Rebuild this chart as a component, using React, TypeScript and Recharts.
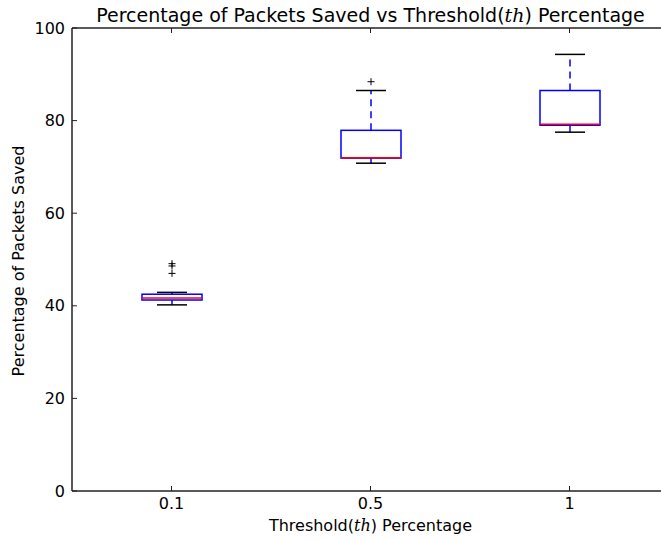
import React from 'react';
import { ComposedChart, Bar, XAxis, YAxis } from 'recharts';

// Box-plot statistics per threshold setting
const categories = ['0.1', '0.5', '1'];
const whiskerLow = [40.2, 70.8, 77.5];
const quartile1 = [41.25, 71.9, 79.0];
const medians = [41.7, 72.0, 79.2];
const quartile3 = [42.5, 77.9, 86.5];
const whiskerHigh = [42.9, 86.5, 94.3];
const outliers: number[][] = [[47.0, 48.6, 49.1], [88.4], []];
const yTicks = [0, 20, 40, 60, 80, 100];

const data = categories.map((category, i) => ({
  category,
  range: [whiskerLow[i], whiskerHigh[i]],
  low: whiskerLow[i],
  q1: quartile1[i],
  median: medians[i],
  q3: quartile3[i],
  high: whiskerHigh[i],
  outliers: outliers[i],
}));

const FONT = '"DejaVu Sans", sans-serif';
const MATH_FONT = '"DejaVu Serif", serif';
const AXIS_COLOR = '#222';

// Draws one box: box, median, dashed whiskers, caps and outlier crosses
const BoxShape = (props: any) => {
  const { x, y, width, height, payload } = props;
  const top = Math.min(y, y + height);
  const h = Math.abs(height);
  const { low, high } = payload;
  const py = (v: number) => top + ((high - v) / (high - low)) * h;
  const cx = x + width / 2;
  const capHalf = width / 4;
  const yq1 = py(payload.q1);
  const yq3 = py(payload.q3);
  const ym = py(payload.median);
  const yHi = py(high);
  const yLo = py(low);
  return (
    <g>
      <line x1={cx} x2={cx} y1={yq3} y2={yHi} stroke="#0000ff" strokeWidth={1.5} strokeDasharray="7 5" />
      <line x1={cx} x2={cx} y1={yq1} y2={yLo} stroke="#0000ff" strokeWidth={1.5} strokeDasharray="7 5" />
      <line x1={cx - capHalf} x2={cx + capHalf} y1={yHi} y2={yHi} stroke="#000" strokeWidth={1.5} />
      <line x1={cx - capHalf} x2={cx + capHalf} y1={yLo} y2={yLo} stroke="#000" strokeWidth={1.5} />
      <rect x={x} y={yq3} width={width} height={yq1 - yq3} fill="none" stroke="#0000ff" strokeWidth={1.5} />
      <line x1={x} x2={x + width} y1={ym} y2={ym} stroke="#ff0000" strokeWidth={1.5} />
      {payload.outliers.map((v: number, k: number) => {
        const oy = py(v);
        return (
          <g key={k}>
            <line x1={cx - 3.5} x2={cx + 3.5} y1={oy} y2={oy} stroke="#000" strokeWidth={1} />
            <line x1={cx} x2={cx} y1={oy - 3.5} y2={oy + 3.5} stroke="#000" strokeWidth={1} />
          </g>
        );
      })}
    </g>
  );
};

const TitleLabel = (props: any) => {
  const { viewBox } = props;
  const cx = viewBox.x + viewBox.width / 2;
  return (
    <text x={cx} y={22} textAnchor="middle" fontFamily={FONT} fontSize={19} fill="#000">
      <tspan>Percentage of Packets Saved vs Threshold(</tspan>
      <tspan fontFamily={MATH_FONT} fontStyle="italic">th</tspan>
      <tspan>) Percentage</tspan>
    </text>
  );
};

const XTitle = (props: any) => {
  const { viewBox } = props;
  const cx = viewBox.x + viewBox.width / 2;
  return (
    <text x={cx} y={531} textAnchor="middle" fontFamily={FONT} fontSize={16} fill="#000">
      <tspan>Threshold(</tspan>
      <tspan fontFamily={MATH_FONT} fontStyle="italic">th</tspan>
      <tspan>) Percentage</tspan>
    </text>
  );
};

const YTitle = () => (
  <text
    x={24}
    y={261}
    textAnchor="middle"
    transform="rotate(-90 24 261)"
    fontFamily={FONT}
    fontSize={16}
    fill="#000"
  >
    Percentage of Packets Saved
  </text>
);

export default function App() {
  return (
    <div
      style={{
        position: 'absolute',
        left: 0,
        top: 0,
        width: 661,
        height: 539,
        overflow: 'hidden',
        background: '#fff',
      }}
    >
      <ComposedChart
        width={680}
        height={539}
        data={data}
        margin={{ top: 0, right: 11, bottom: 0, left: 0 }}
      >
        <XAxis
          xAxisId="top"
          orientation="top"
          dataKey="category"
          height={28}
          tickSize={-5}
          tickFormatter={() => ''}
          stroke={AXIS_COLOR}
          axisLine={{ stroke: AXIS_COLOR, strokeWidth: 1.5 }}
          tickLine={{ stroke: AXIS_COLOR }}
          label={<TitleLabel />}
        />
        <XAxis
          dataKey="category"
          height={48}
          tickSize={-5}
          tickMargin={12}
          axisLine={{ stroke: AXIS_COLOR, strokeWidth: 1.5 }}
          tickLine={{ stroke: AXIS_COLOR }}
          tick={{ fill: '#000', fontSize: 16, fontFamily: FONT }}
          label={<XTitle />}
        />
        <YAxis
          width={72}
          domain={[0, 100]}
          ticks={yTicks}
          type="number"
          tickSize={-5}
          tickMargin={12}
          axisLine={{ stroke: AXIS_COLOR, strokeWidth: 1.5 }}
          tickLine={{ stroke: AXIS_COLOR }}
          tick={{ fill: '#000', fontSize: 16, fontFamily: FONT }}
          label={<YTitle />}
        />
        <Bar
          dataKey="range"
          barSize={60}
          shape={<BoxShape />}
          isAnimationActive={false}
        />
      </ComposedChart>
    </div>
  );
}
